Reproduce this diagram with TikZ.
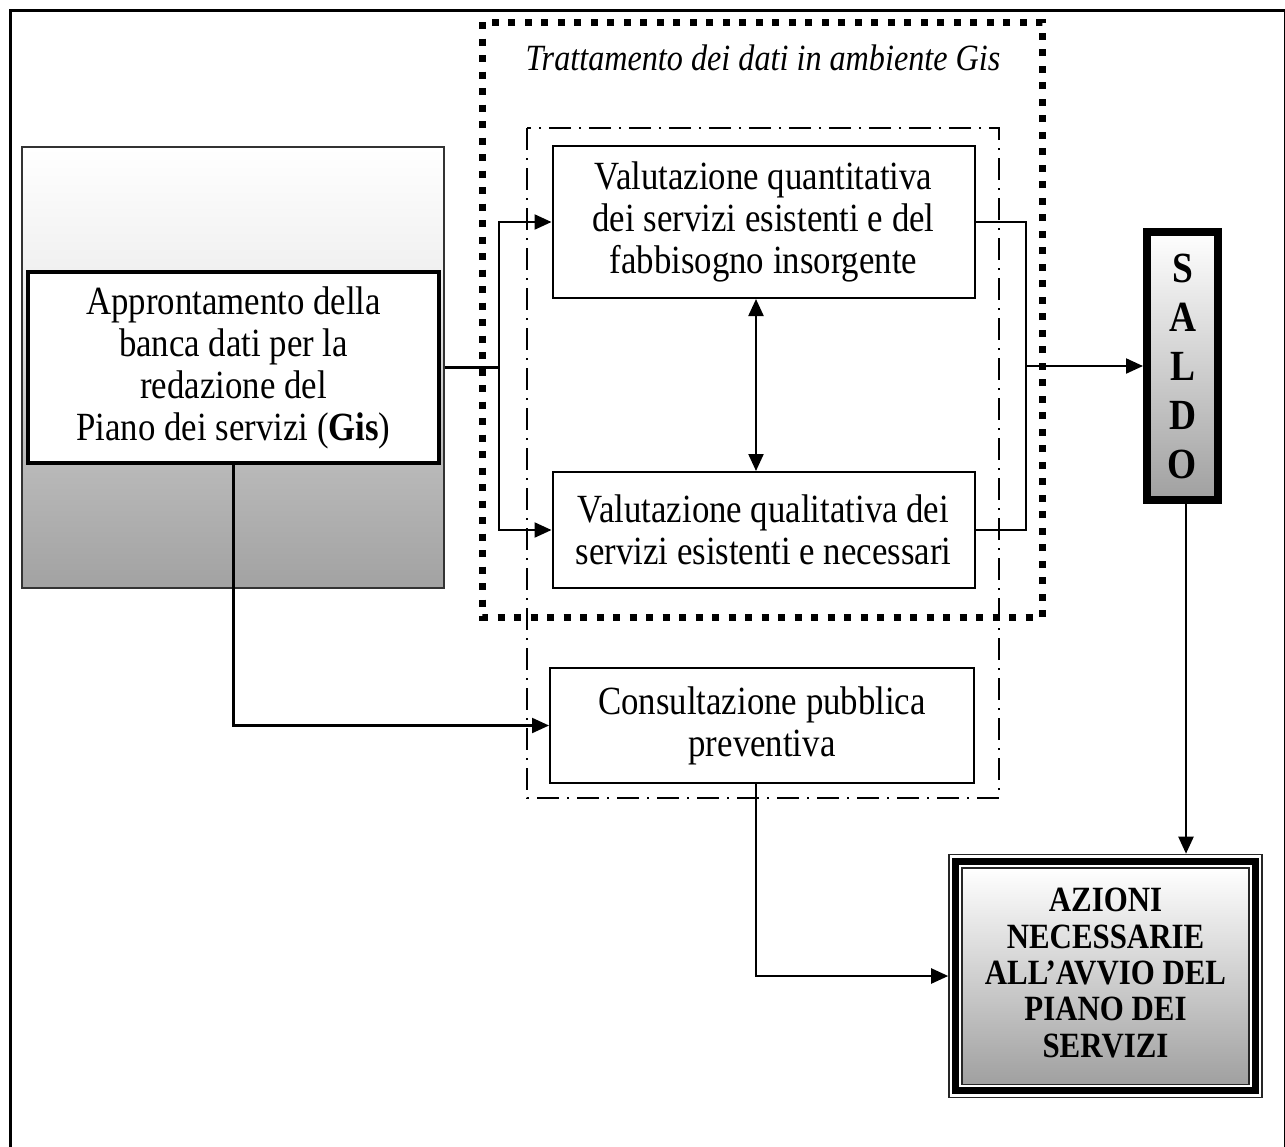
\documentclass[tikz,border=0pt]{standalone}
\usepackage{fontspec}
\setmainfont{Liberation Serif}[FakeStretch=0.87]
\usetikzlibrary{arrows.meta,calc}
\definecolor{shA}{HTML}{A2A2A2}
\definecolor{shB}{HTML}{B9B9B9}
\definecolor{shC}{HTML}{F0F0F0}
\definecolor{grA}{HTML}{A0A0A0}
\pgfdeclareverticalshading{leftshade}{100bp}{color(0bp)=(shA); color(25bp)=(shA); color(39bp)=(shB); color(61bp)=(shC); color(75bp)=(white); color(100bp)=(white)}
\newcommand\mainsz{\fontsize{40}{42}\selectfont}
\tikzset{
  box/.style={draw, line width=2pt, fill=white, align=center, inner sep=0pt, font=\mainsz},
  conn/.style={line width=2.2pt},
  arr/.style={conn, -{Triangle[length=17pt,width=15pt]}},
  darr/.style={conn, {Triangle[length=17pt,width=15pt]}-{Triangle[length=17pt,width=15pt]}},
  dotframe/.style={line width=7pt, dash pattern=on 7pt off 9.5pt, line cap=butt},
  dashdotframe/.style={line width=2pt, dash pattern=on 22pt off 8pt on 2pt off 8pt},
}
\begin{document}
\begin{tikzpicture}[x=1pt,y=-1pt]
\useasboundingbox (0,0) rectangle (1285,1146);
\begin{scope}
\clip (0,0) rectangle (1285,1146);
\draw[line width=3pt] (10,10) rectangle (1285.5,1170);
\end{scope}
% frames
\draw[dotframe] (482,22) rectangle (1042,617);
\draw[dashdotframe] (527,128) rectangle (999,798);
\node[font=\itshape\fontsize{37}{40}\selectfont] (title) at (763,58) {Trattamento dei dati in ambiente Gis};
% left box
\node[draw=black!80, line width=1.5pt, shading=leftshade, minimum width=422pt, minimum height=441pt, inner sep=0pt] (leftbox) at (233,367.5) {};
\node[box, line width=4pt, minimum width=411pt, minimum height=191pt] (lefttext) at (233.5,367.5)
  {Approntamento della\\banca dati per la\\redazione del\\Piano dei servizi (\textbf{Gis})};
% main boxes
\node[box, minimum width=422pt, minimum height=152pt] (q1) at (763.5,222)
  {Valutazione quantitativa\\dei servizi esistenti e del\\fabbisogno insorgente};
\node[box, minimum width=422pt, minimum height=116pt] (q2) at (763.5,530)
  {Valutazione qualitativa dei\\servizi esistenti e necessari};
\node[box, minimum width=424pt, minimum height=115pt] (cons) at (762,725.5)
  {Consultazione pubblica\\preventiva};
% SALDO
\node[draw, line width=8pt, top color=white, bottom color=grA, minimum width=71pt, minimum height=268pt, inner sep=0pt, align=center, font=\bfseries\fontsize{43}{49}\selectfont] (saldo) at (1182.5,366)
  {S\\A\\L\\D\\O};
% AZIONI
\node[draw=black!85, line width=1.6pt, fill=white, minimum width=313pt, minimum height=243pt, inner sep=0pt] (azioni) at (1105.5,976) {};
\draw[line width=7pt] ($(azioni.north west)+(7.5,7.5)$) rectangle ($(azioni.south east)+(-7.5,-7.5)$);
\draw[line width=1.6pt, draw=black!85, top color=white, bottom color=grA] ($(azioni.north west)+(14,14)$) rectangle ($(azioni.south east)+(-14,-14)$);
\node[align=center, inner sep=0pt, font=\bfseries\fontsize{35.5}{36.4}\selectfont] (aztext) at (1105.5,973)
  {AZIONI\\NECESSARIE\\ALL’AVVIO DEL\\PIANO DEI\\SERVIZI};
% connectors
\coordinate (bl) at (499,367.5);
\coordinate (br) at (1026,366);
\coordinate (cx) at (756,0);
\coordinate (sx) at (1186,0);
\draw[conn] (leftbox.east) -- (bl);
\draw[arr] (bl) |- (q1.west);
\draw[arr] (bl) |- (q2.west);
\draw[conn] (q1.east) -| (br);
\draw[conn] (q2.east) -| (br);
\draw[arr] (br) -- (saldo.west);
\draw[darr] (q1.south -| cx) -- (q2.north -| cx);
\draw[arr] (lefttext.south) |- (cons.west);
\draw[arr] (cons.south -| cx) |- (azioni.west);
\draw[arr] (saldo.south -| sx) -- (azioni.north -| sx);
\end{tikzpicture}
\end{document}
